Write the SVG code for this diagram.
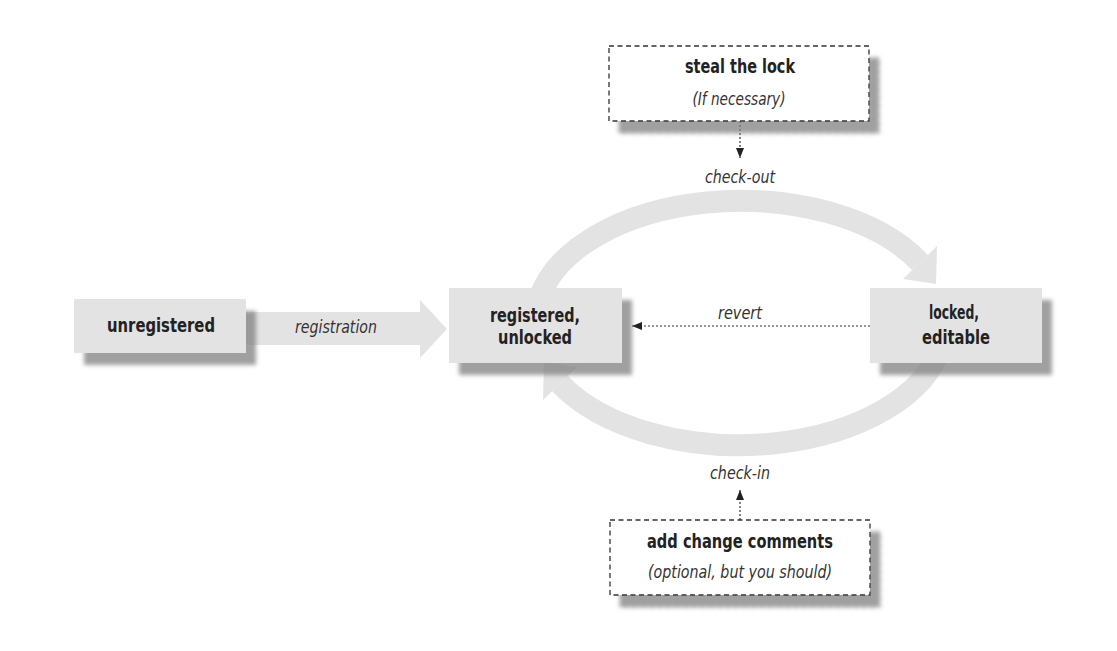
<svg xmlns="http://www.w3.org/2000/svg" width="1117" height="651" viewBox="0 0 1117 651">
<defs>
<filter id="sh" x="-10%" y="-10%" width="130%" height="140%">
<feDropShadow dx="10" dy="12" stdDeviation="2.2" flood-color="#808080" flood-opacity="0.75"/>
</filter>
<marker id="ah" markerWidth="10" markerHeight="8" refX="10" refY="4" orient="auto" markerUnits="userSpaceOnUse">
<path d="M0,0 L10,4 L0,8 Z" fill="#222"/>
</marker>
</defs>
<style>
.box{fill:#e3e3e3;filter:url(#sh)}
.dbox{fill:#fff;stroke:#333;stroke-width:1.3;stroke-dasharray:5 3.5;filter:url(#sh)}
.band{fill:none;stroke:#e3e3e3;stroke-width:22}
.head{fill:#e3e3e3}
.dot{fill:none;stroke:#333;stroke-width:1.2;stroke-dasharray:2 2;marker-end:url(#ah)}
.b{font-family:"Liberation Sans Narrow","DejaVu Sans Condensed","Liberation Sans",sans-serif;font-weight:bold;font-size:20px;fill:#222;text-anchor:middle}
.i{font-family:"Liberation Sans Narrow","DejaVu Sans Condensed","Liberation Sans",sans-serif;font-style:italic;font-size:17px;fill:#333;text-anchor:middle}
</style>
<rect width="1117" height="651" fill="#fff"/>
<g id="connectors">
<path class="band" d="M539,300 A205,120 0 0 1 920,262.5"/>
<polygon class="head" points="937,246 903,279 936,284"/>
<path class="band" d="M941,346 A205,120 0 0 1 560,383.5"/>
<polygon class="head" points="543,400 577,367 544,362"/>
<polygon class="head" points="240,312 420,312 420,300 447,329 420,358 420,345 240,345"/>
<text class="i" x="336" y="333" textLength="82" lengthAdjust="spacingAndGlyphs">registration</text>
<line class="dot" x1="870" y1="326" x2="632" y2="326"/>
<text class="i" x="740" y="319" textLength="44" lengthAdjust="spacingAndGlyphs">revert</text>
<line class="dot" x1="740" y1="121" x2="740" y2="158"/>
<text class="i" x="740" y="183" textLength="70" lengthAdjust="spacingAndGlyphs">check-out</text>
<line class="dot" x1="740" y1="520" x2="740" y2="490"/>
<text class="i" x="740" y="479" textLength="60" lengthAdjust="spacingAndGlyphs">check-in</text>
</g>
<g id="node-unregistered">
<rect class="box" x="74" y="299" width="172" height="54"/>
<text class="b" x="161" y="332" textLength="108" lengthAdjust="spacingAndGlyphs">unregistered</text>
</g>
<g id="node-registered">
<rect class="box" x="449" y="288" width="173" height="75"/>
<text class="b" x="535" y="322" textLength="90" lengthAdjust="spacingAndGlyphs">registered,</text>
<text class="b" x="535" y="344" textLength="74" lengthAdjust="spacingAndGlyphs">unlocked</text>
</g>
<g id="node-locked">
<rect class="box" x="870" y="288" width="172" height="75"/>
<text class="b" x="954" y="319" textLength="50" lengthAdjust="spacingAndGlyphs">locked,</text>
<text class="b" x="956" y="344" textLength="68" lengthAdjust="spacingAndGlyphs">editable</text>
</g>
<g id="node-steal">
<rect class="dbox" x="609" y="46" width="260" height="75"/>
<text class="b" x="740" y="73" font-size="19" textLength="110" lengthAdjust="spacingAndGlyphs">steal the lock</text>
<text class="i" x="739" y="105" textLength="93" lengthAdjust="spacingAndGlyphs">(If necessary)</text>
</g>
<g id="node-comments">
<rect class="dbox" x="610" y="520" width="260" height="75"/>
<text class="b" x="740" y="548" font-size="19" textLength="186" lengthAdjust="spacingAndGlyphs">add change comments</text>
<text class="i" x="740" y="578" textLength="184" lengthAdjust="spacingAndGlyphs">(optional, but you should)</text>
</g>
</svg>
